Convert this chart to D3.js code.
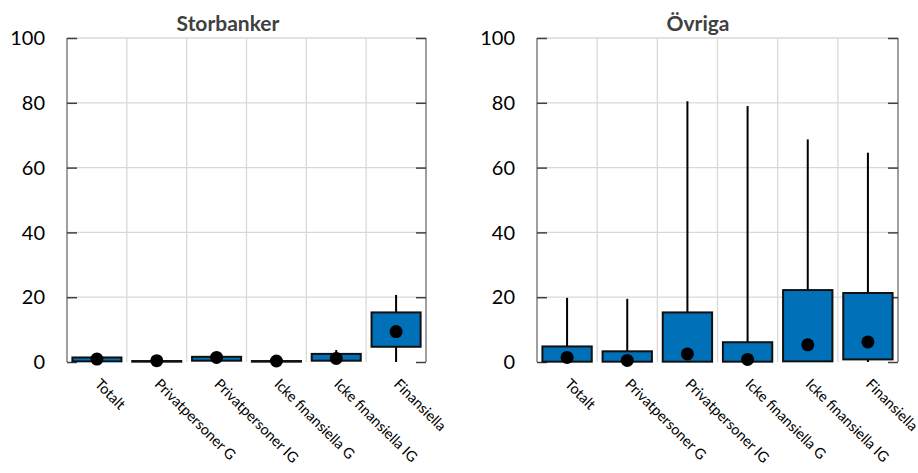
<!DOCTYPE html>
<html>
<head>
<meta charset="utf-8">
<script src="https://cdn.jsdelivr.net/npm/d3@7"></script>
<style>
  body { margin: 0; background: #fff; }
  svg { display: block; font-family: Lato, "Liberation Sans", sans-serif; }
</style>
</head>
<body>
<svg id="chart"></svg>
<script>
// categories shared by both panels
const categories = ["Totalt", "Privatpersoner G", "Privatpersoner IG", "Icke finansiella G", "Icke finansiella IG", "Finansiella"]
const yTicks = [0, 20, 40, 60, 80, 100]

// Storbanker
const storMin = [0, 0, 0.2, 0, 0.2, 0]
const storQ1 = [0.2, 0.1, 0.4, 0.1, 0.4, 4.7]
const storMedian = [0.9, 0.4, 1.4, 0.3, 1.1, 9.4]
const storQ3 = [1.4, 0.3, 1.6, 0.3, 2.5, 15.3]
const storMax = [1.5, 0.4, 1.8, 0.4, 3.7, 20.7]

// Övriga
const ovrMin = [0, 0, 0, 0, 0, 0]
const ovrQ1 = [0.1, 0.1, 0.1, 0.1, 0.2, 0.8]
const ovrMedian = [1.4, 0.5, 2.5, 0.8, 5.3, 6.2]
const ovrQ3 = [4.8, 3.3, 15.3, 6.1, 22.2, 21.3]
const ovrMax = [19.8, 19.5, 80.5, 79, 68.7, 64.6]

const panels = [
  { title: "Storbanker", left: 67, right: 426, titleX: 228,
    min: storMin, q1: storQ1, median: storMedian, q3: storQ3, max: storMax },
  { title: "Övriga", left: 537, right: 898, titleX: 698,
    min: ovrMin, q1: ovrQ1, median: ovrMedian, q3: ovrQ3, max: ovrMax },
]

const width = 918
const height = 473
const plotTop = 38
const plotBottom = 362

const svg = d3.select("#chart").attr("width", width).attr("height", height)

const yScale = d3.scaleLinear().domain([0, 100]).range([plotBottom, plotTop])

panels.forEach((p) => {
  const xScale = d3.scaleBand().domain(categories).range([p.left, p.right])
  const bw = xScale.bandwidth()
  const boxW = bw * 0.82
  const g = svg.append("g")

  // gridlines
  g.selectAll(".hgrid")
    .data(yTicks.filter((d) => d > 0))
    .join("line")
    .attr("x1", p.left).attr("x2", p.right)
    .attr("y1", (d) => yScale(d)).attr("y2", (d) => yScale(d))
    .attr("stroke", "#d9d9d9").attr("stroke-width", 1.3)

  g.selectAll(".vgrid")
    .data(categories.slice(1))
    .join("line")
    .attr("x1", (d) => xScale(d)).attr("x2", (d) => xScale(d))
    .attr("y1", plotTop).attr("y2", plotBottom)
    .attr("stroke", "#d9d9d9").attr("stroke-width", 1.3)

  // left and right axes, ticks pointing inward
  const leftAxis = d3.axisRight(yScale).tickValues(yTicks).tickSize(10).tickFormat("")
  const rightAxis = d3.axisLeft(yScale).tickValues(yTicks).tickSize(10).tickFormat("")
  const la = g.append("g").attr("transform", `translate(${p.left},0)`).call(leftAxis)
  const ra = g.append("g").attr("transform", `translate(${p.right},0)`).call(rightAxis)
  ;[la, ra].forEach((a) => {
    a.select(".domain").attr("stroke", "#7f7f7f").attr("stroke-width", 1.5)
      .attr("d", `M0,${plotTop}V${plotBottom}`)
    a.selectAll(".tick line").attr("stroke", "#404040").attr("stroke-width", 1.5)
  })

  // y tick labels
  g.selectAll(".ylab")
    .data(yTicks)
    .join("text")
    .attr("x", p.left - 22)
    .attr("y", (d) => yScale(d))
    .attr("dy", "0.36em")
    .attr("text-anchor", "end")
    .attr("font-size", 20)
    .attr("fill", "#000")
    .text((d) => d)

  // title
  g.append("text")
    .attr("x", p.titleX).attr("y", 31)
    .attr("text-anchor", "middle")
    .attr("font-size", 21).attr("font-weight", "bold")
    .attr("fill", "#404040")
    .text(p.title)

  // boxes
  categories.forEach((c, i) => {
    const cx = xScale(c) + bw / 2
    g.append("line")
      .attr("x1", cx).attr("x2", cx)
      .attr("y1", yScale(p.min[i])).attr("y2", yScale(p.max[i]))
      .attr("stroke", "#000").attr("stroke-width", 2)
    const y1 = yScale(Math.max(p.q1[i], p.q3[i]))
    const y0 = yScale(Math.min(p.q1[i], p.q3[i]))
    g.append("rect")
      .attr("x", cx - boxW / 2).attr("width", boxW)
      .attr("y", y1).attr("height", Math.max(y0 - y1, 0.5))
      .attr("fill", "#0070b8")
      .attr("stroke", "#111").attr("stroke-width", 2)
    g.append("circle")
      .attr("cx", cx).attr("cy", yScale(p.median[i]))
      .attr("r", 6.5).attr("fill", "#000")
  })

  // rotated category labels
  g.selectAll(".xlab")
    .data(categories)
    .join("text")
    .attr("transform", (d) => `translate(${xScale(d) + bw / 2 - 3},${plotBottom + 23}) rotate(45)`)
    .attr("font-size", 14.5)
    .attr("fill", "#000")
    .text((d) => d)
})
</script>
</body>
</html>
